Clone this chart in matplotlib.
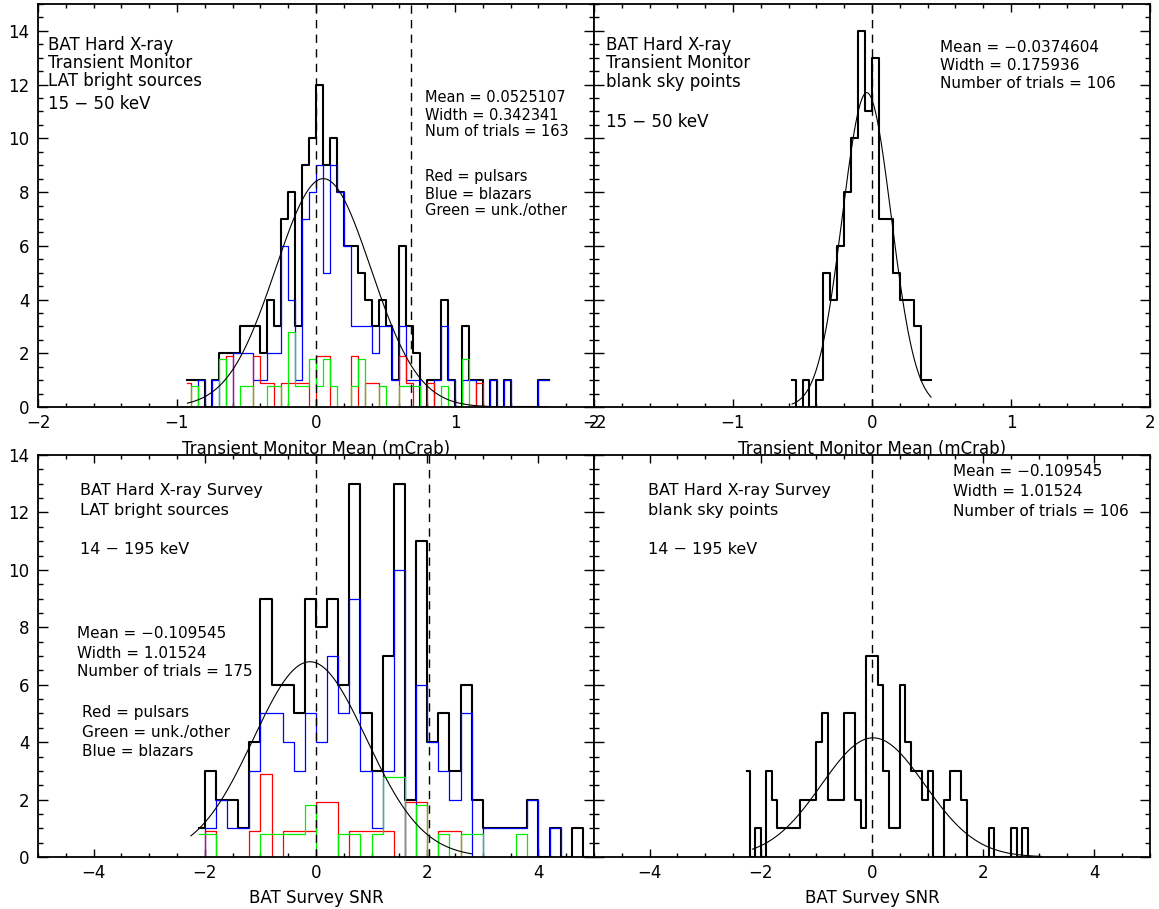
import numpy as np
import matplotlib
matplotlib.use("Agg")
import matplotlib.pyplot as plt
from matplotlib.ticker import MultipleLocator

W, H = 1159, 909

# --- top left: transient monitor, LAT bright sources (0.05 mCrab bins) ---
tl_start, tl_bin = -0.925, 0.05
tl_all = [1, 1, 1, 0, 1, 2, 2, 2, 3, 3, 3, 2, 4, 3, 7, 8, 3, 9, 10, 12,
          9, 10, 8, 6, 6, 5, 4, 3, 4, 3, 1, 6, 3, 2, 0, 1, 1, 4, 1, 0,
          3, 1, 1, 0, 1, 0, 1, 0, 0, 0, 0, 1, 1]
tl_blue = [0, 0, 1, 0, 1, 0, 0, 2, 2, 2, 1, 1, 2, 2, 6, 4, 1, 7, 8, 9,
           5, 9, 8, 6, 3, 3, 3, 2, 3, 3, 1, 3, 1, 1, 0, 0, 1, 3, 1, 0,
           1, 1, 0, 0, 1, 0, 1, 0, 0, 0, 0, 1, 1]
tl_red = [1, 0, 0, 0, 0, 0, 2, 0, 0, 0, 2, 1, 1, 0, 1, 1, 1, 1, 0, 2,
          2, 0, 0, 0, 2, 0, 1, 1, 0, 0, 0, 2, 1, 0, 0, 1, 0, 0, 0, 0,
          0, 0, 1, 0, 0, 0, 0, 0, 0, 0, 0, 0, 0]
tl_green = [0, 1, 0, 0, 0, 2, 0, 0, 1, 1, 0, 0, 1, 1, 0, 3, 1, 1, 2, 1,
            2, 1, 0, 0, 1, 2, 0, 0, 1, 0, 0, 1, 1, 1, 0, 0, 0, 1, 0, 0,
            2, 0, 0, 0, 0, 0, 0, 0, 0, 0, 0, 0, 0]
tl_mean, tl_width, tl_peak = 0.0525107, 0.342341, 8.5

# --- top right: transient monitor, blank sky ---
tr_start, tr_bin = -0.575, 0.05
tr_all = [1, 0, 1, 0, 1, 5, 4, 6, 8, 10, 14, 11, 13, 7, 7, 5, 4, 4, 3, 1, 1]
tr_mean, tr_width, tr_peak = -0.0374604, 0.175936, 11.7

# --- bottom left: survey SNR, LAT bright sources (0.2 bins) ---
bl_start, bl_bin = -2.1, 0.2
bl_all = [1, 3, 2, 2, 1, 4, 9, 6, 6, 5, 9, 8, 9, 6, 13, 5, 3, 7, 13, 2,
          11, 4, 5, 3, 6, 2, 1, 1, 1, 1, 2, 0, 1, 0, 1, 0]
bl_blue = [0, 1, 2, 1, 1, 3, 5, 5, 4, 3, 5, 4, 7, 5, 9, 3, 1, 3, 10, 0,
           6, 4, 3, 2, 5, 0, 1, 1, 1, 1, 2, 0, 1, 0, 0, 0]
bl_red = [0, 1, 0, 0, 0, 1, 3, 0, 1, 1, 1, 2, 2, 0, 1, 1, 1, 1, 0, 2,
          2, 0, 1, 1, 0, 0, 0, 0, 0, 0, 0, 0, 0, 0, 0, 0]
bl_green = [1, 1, 0, 0, 0, 0, 1, 1, 1, 1, 2, 0, 0, 1, 1, 0, 1, 3, 3, 0,
            2, 0, 1, 0, 1, 1, 0, 0, 0, 1, 0, 0, 0, 0, 0, 0]
bl_mean, bl_width, bl_peak = -0.109545, 1.01524, 6.8

# --- bottom right: survey SNR, blank sky (0.1 bins) ---
br_start, br_bin = -2.25, 0.1
br_all = [3, 0, 1, 0, 3, 2, 1, 1, 1, 1, 2, 2, 2, 4, 5, 2, 2, 2, 5, 5,
          2, 1, 7, 7, 6, 3, 1, 1, 6, 4, 3, 3, 2, 3, 0, 0, 2, 3, 3, 2,
          0, 0, 0, 0, 1, 0, 0, 0, 1, 0, 1, 0]
br_mean, br_width = -0.109545, 1.01524
br_fit_mean, br_fit_width, br_peak = 0.02, 0.93, 4.15

fig = plt.figure(figsize=(W / 100, H / 100), dpi=100)


def px_axes(x0, y0, x1, y1):
    return fig.add_axes([x0 / W, 1 - y1 / H, (x1 - x0) / W, (y1 - y0) / H])


def style(ax, xlim, ylim, xmajor, xminor, ylabels=True):
    ax.set_xlim(xlim)
    ax.set_ylim(ylim)
    ax.xaxis.set_major_locator(MultipleLocator(xmajor))
    ax.xaxis.set_minor_locator(MultipleLocator(xminor))
    ax.yaxis.set_major_locator(MultipleLocator(2))
    ax.yaxis.set_minor_locator(MultipleLocator(0.5))
    ax.tick_params(which='both', direction='in', top=True, right=True,
                   width=1.0, labelsize=12)
    ax.tick_params(axis='x', which='major', length=6, pad=5)
    ax.tick_params(axis='x', which='minor', length=3)
    ax.tick_params(axis='y', which='major', length=7.5, pad=6)
    ax.tick_params(axis='y', which='minor', length=3.5)
    if not ylabels:
        ax.tick_params(axis='y', labelleft=False)
    for s in ax.spines.values():
        s.set_linewidth(1.3)


def hist(ax, start, binsize, counts, color, lw, offset=0.0):
    x = start + binsize * np.arange(len(counts))
    ax.step(x, np.asarray(counts, float) + offset, where='mid', color=color, lw=lw)


def fit(ax, mean, width, peak, lo, hi):
    x = np.linspace(lo, hi, 400)
    ax.plot(x, peak * np.exp(-0.5 * ((x - mean) / width) ** 2), color='k', lw=0.8)


def dashed(ax, x):
    ax.axvline(x, color='k', lw=1.0, ls=(0, (6, 4.5)))


def txt(x, y, s, size):
    fig.text(x / W, 1 - y / H, s, fontsize=size, ha='left', va='center')


ax1 = px_axes(38, 4, 594, 407)
ax2 = px_axes(594, 4, 1150, 407)
ax3 = px_axes(38, 455, 594, 857)
ax4 = px_axes(594, 455, 1150, 857)

# top left
hist(ax1, tl_start, tl_bin, tl_all, 'k', 1.5)
hist(ax1, tl_start, tl_bin, tl_blue, '#0000ff', 0.9)
hist(ax1, tl_start, tl_bin, tl_red, '#ff0000', 0.9, -0.1)
hist(ax1, tl_start, tl_bin, tl_green, '#00ee00', 0.9, -0.2)
fit(ax1, tl_mean, tl_width, tl_peak, -0.925, 1.675)
dashed(ax1, 0)
dashed(ax1, 2 * tl_width)
style(ax1, (-2, 2), (0, 15), 1, 0.2)
ax1.set_xlabel('Transient Monitor Mean (mCrab)', fontsize=12)
ax1.xaxis.set_label_coords(0.5, -0.082)

# top right
hist(ax2, tr_start, tr_bin, tr_all, 'k', 1.5)
fit(ax2, tr_mean, tr_width, tr_peak, -0.575, 0.425)
dashed(ax2, 0)
style(ax2, (-2, 2), (0, 15), 1, 0.2, ylabels=False)
ax2.set_xlabel('Transient Monitor Mean (mCrab)', fontsize=12)
ax2.xaxis.set_label_coords(0.5, -0.082)

# bottom left
hist(ax3, bl_start, bl_bin, bl_all, 'k', 1.5)
hist(ax3, bl_start, bl_bin, bl_blue, '#0000ff', 0.9)
hist(ax3, bl_start, bl_bin, bl_red, '#ff0000', 0.9, -0.1)
hist(ax3, bl_start, bl_bin, bl_green, '#00ee00', 0.9, -0.2)
fit(ax3, bl_mean, bl_width, bl_peak, -2.25, 2.8)
dashed(ax3, 0)
dashed(ax3, 2 * bl_width)
style(ax3, (-5, 5), (0, 14), 2, 0.5)
ax3.set_xlabel('BAT Survey SNR', fontsize=12)
ax3.xaxis.set_label_coords(0.5, -0.08)

# bottom right
hist(ax4, br_start, br_bin, br_all, 'k', 1.5)
fit(ax4, br_fit_mean, br_fit_width, br_peak, -2.15, 3.05)
dashed(ax4, 0)
style(ax4, (-5, 5), (0, 14), 2, 0.5, ylabels=False)
ax4.set_xlabel('BAT Survey SNR', fontsize=12)
ax4.xaxis.set_label_coords(0.5, -0.08)

# annotations
txt(48, 45, 'BAT Hard X-ray', 12)
txt(48, 63, 'Transient Monitor', 12)
txt(48, 81, 'LAT bright sources', 12)
txt(48, 104, '15 \u2212 50 keV', 12)
txt(425, 97, 'Mean = %g' % tl_mean, 10.5)
txt(425, 115, 'Width = %g' % tl_width, 10.5)
txt(425, 132, 'Num of trials = %d' % 163, 10.5)
txt(425, 177, 'Red = pulsars', 10.5)
txt(425, 194, 'Blue = blazars', 10.5)
txt(425, 211, 'Green = unk./other', 10.5)

txt(606, 45, 'BAT Hard X-ray', 12)
txt(606, 63, 'Transient Monitor', 12)
txt(606, 82, 'blank sky points', 12)
txt(606, 122, '15 \u2212 50 keV', 12)
txt(940, 47, 'Mean = \u22120.0374604', 11)
txt(940, 65, 'Width = 0.175936', 11)
txt(940, 84, 'Number of trials = 106', 11)

txt(80, 491, 'BAT Hard X-ray Survey', 11.5)
txt(80, 511, 'LAT bright sources', 11.5)
txt(80, 550, '14 \u2212 195 keV', 11.5)
txt(77, 633, 'Mean = \u22120.109545', 11)
txt(77, 653, 'Width = 1.01524', 11)
txt(77, 672, 'Number of trials = 175', 11)
txt(82, 713, 'Red = pulsars', 11)
txt(82, 733, 'Green = unk./other', 11)
txt(82, 752, 'Blue = blazars', 11)

txt(648, 491, 'BAT Hard X-ray Survey', 11.5)
txt(648, 511, 'blank sky points', 11.5)
txt(648, 550, '14 \u2212 195 keV', 11.5)
txt(953, 472, 'Mean = \u22120.109545', 11)
txt(953, 492, 'Width = 1.01524', 11)
txt(953, 511, 'Number of trials = 106', 11)

fig.savefig('out.png', dpi=100)
